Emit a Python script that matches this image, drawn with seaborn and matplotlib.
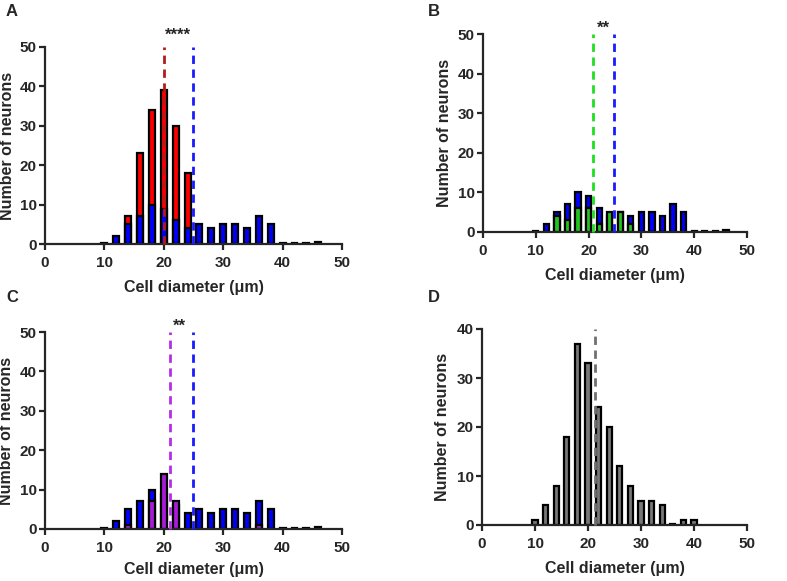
import numpy as np
import pandas as pd
import matplotlib
matplotlib.use("Agg")
import matplotlib.pyplot as plt
import seaborn as sns

# bin centres (um)
diam = [10, 12, 14, 16, 18, 20, 22, 24, 26, 28, 30, 32, 34, 36, 38, 40, 42, 44, 46]

# all neurons (blue), same in A, B, C
blue = [0.3, 2, 5, 7, 10, 9, 6, 4, 5, 4, 5, 5, 4, 7, 5, 0.3, 0.3, 0.3, 0.6]
# subsets
red = [0, 0, 7, 23, 34, 39, 30, 18, 0, 0, 0, 0, 0, 0, 0, 0, 0, 0, 0]
green = [0, 0, 4, 3, 6, 6, 2, 5, 5, 2, 0, 0, 0, 0, 0, 0, 0, 0, 0]
purple = [0, 0, 1, 0, 7, 14, 7, 0, 0, 0, 0, 0, 0, 1, 0, 0, 0, 0, 0]

# panel D
diam_d = [10, 12, 14, 16, 18, 20, 22, 24, 26, 28, 30, 32, 34, 36, 38, 40]
gray = [1, 4, 8, 18, 37, 33, 24, 20, 12, 8, 5, 5, 4, 0.3, 1, 1]

# means (dashed lines)
mean_blue = 24.9
mean_red = 20.0
mean_green = 20.9
mean_purple = 21.0
mean_gray = 21.3

sns.set_style("ticks")
plt.rcParams['font.family'] = ['Liberation Sans', 'DejaVu Sans']
plt.rcParams['font.weight'] = 'bold'

W, H = 787, 581
fig = plt.figure(figsize=(W / 100, H / 100), dpi=100)


def px_axes(x0, y0, x1, y1):
    return fig.add_axes([x0 / W, 1 - y1 / H, (x1 - x0) / W, (y1 - y0) / H])


def bars(ax, x, y, color):
    df = pd.DataFrame({'d': x, 'n': y})
    df = df[df['n'] > 0]
    sns.barplot(data=df, x='d', y='n', native_scale=True, color=color,
                width=0.5, edgecolor='black', linewidth=1.6, saturation=1,
                errorbar=None, ax=ax)


def style(ax, ymax, xpad=7, ylab_x=-0.1):
    ax.set_xlim(0, 50)
    ax.set_ylim(0, ymax)
    ax.set_xticks(range(0, 51, 10))
    ax.set_yticks(range(0, ymax + 1, 10))
    sns.despine(ax=ax)
    for s in ['left', 'bottom']:
        ax.spines[s].set_linewidth(1.6)
    ax.tick_params(width=1.6, length=4.5, labelsize=11)
    ax.tick_params(axis='x', pad=4)
    ax.tick_params(axis='y', pad=1.5)
    for t in ax.get_xticklabels() + ax.get_yticklabels():
        t.set_fontweight('bold')
    ax.set_xlabel('Cell diameter (\u03bcm)', fontsize=11.5, fontweight='bold', labelpad=xpad)
    ax.set_ylabel('Number of neurons', fontsize=11.5, fontweight='bold')
    ax.yaxis.set_label_coords(ylab_x, 0.5)


def mean_line(ax, x, color, top):
    ax.plot([x, x], [0, top], ls=(0, (3, 2)), lw=2, color=color,
            clip_on=False, zorder=5)


# A
axA = px_axes(45, 47, 342, 244)
bars(axA, diam, red, '#ff0000')
bars(axA, diam, blue, '#0000ff')
style(axA, 50, ylab_x=-0.101)
mean_line(axA, mean_red, '#b51a1a', 50)
mean_line(axA, mean_blue, '#1a1aff', 50)
axA.text(22.4, 51.0, '****', ha='center', va='bottom', fontsize=12, fontweight='bold')

# B
axB = px_axes(483, 34, 747, 232)
bars(axB, diam, blue, '#0000ff')
bars(axB, diam, green, '#22c41e')
style(axB, 50, ylab_x=-0.117)
mean_line(axB, mean_green, '#22dd22', 50)
mean_line(axB, mean_blue, '#1a1aff', 50)
axB.text(22.9, 49.5, '**', ha='center', va='bottom', fontsize=12, fontweight='bold')

# C
axC = px_axes(45, 332, 342, 529)
bars(axC, diam, blue, '#0000ff')
bars(axC, diam, purple, '#a81cd8')
style(axC, 50, xpad=5, ylab_x=-0.104)
mean_line(axC, mean_purple, '#b52ee6', 50)
mean_line(axC, mean_blue, '#1a1aff', 50)
axC.text(22.7, 49.5, '**', ha='center', va='bottom', fontsize=12, fontweight='bold')

# D
axD = px_axes(482, 329, 747, 525)
bars(axD, diam_d, gray, '#787878')
style(axD, 40, xpad=7, ylab_x=-0.121)
mean_line(axD, mean_gray, '#707070', 40)

for lab, (x, y) in zip('ABCD', [(12, 12), (434, 11), (12, 298), (434, 298)]):
    fig.text(x / W, 1 - y / H, lab, fontsize=12, fontweight='bold',
             ha='center', va='center')

fig.savefig('out.png', dpi=100)
